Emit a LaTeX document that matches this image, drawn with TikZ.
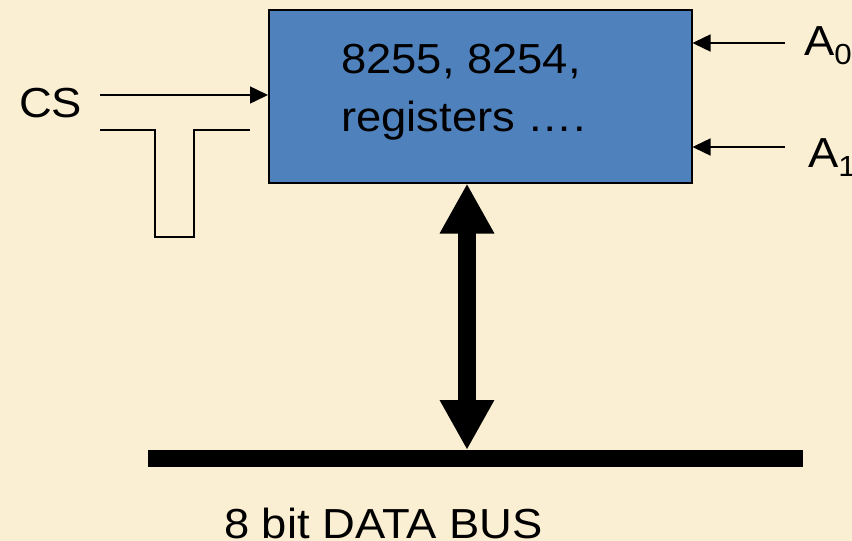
\documentclass[tikz,border=0pt]{standalone}
\usepackage{fontspec}
\setmainfont{Liberation Sans}[FakeStretch=1.08]
\usetikzlibrary{arrows.meta}
\definecolor{bgcream}{HTML}{FBEFD3}
\definecolor{boxblue}{HTML}{4F81BD}
\tikzset{
  lbl/.style={inner sep=0pt, anchor=base west, font=\fontsize{42}{58}\selectfont},
  thin/.style={line width=1.5pt, draw=black},
  sig/.style={thin, -{Triangle[length=18pt,width=17pt]}},
  bigarrow/.style={line width=18pt, {Triangle[length=50pt,width=51pt]}-{Triangle[length=50pt,width=51pt]}}
}
\newcommand{\subA}[1]{A\raisebox{-9pt}{\fontsize{29}{29}\selectfont #1}}
\begin{document}
\begin{tikzpicture}[x=1pt,y=-1pt]
\useasboundingbox (0,0) rectangle (852,541);
\fill[bgcream] (0,0) rectangle (852,541);
% main box
\node[draw=black, line width=1.5pt, fill=boxblue, minimum width=423pt, minimum height=173pt, inner sep=0pt, anchor=north west] (box) at (268,9) {};
\node[lbl] (t1) at (341,73) {8255, 8254,};
\node[lbl] (t2) at (341,131) {registers ….};
% CS
\node[lbl] (cs) at (19,117) {CS};
\coordinate (cs0) at (100,95);
\draw[sig] (cs0) -- (cs0 -| box.west);
% pulse waveform
\draw[thin] (100,130) -- (155,130) -- (155,237) -- (194,237) -- (194,130) -- (250,130);
% A0, A1
\node[lbl] (a0) at (804,55) {\subA{0}};
\node[lbl] (a1) at (808,167) {\subA{1}};
\coordinate (a0s) at (785,43);
\coordinate (a1s) at (785,147);
\draw[sig] (a0s) -- (a0s -| box.east);
\draw[sig] (a1s) -- (a1s -| box.east);
% bus
\node[fill=black, minimum width=655pt, minimum height=17pt, inner sep=0pt, anchor=north west] (bus) at (148,450) {};
\node[lbl] (buslbl) at (224,538) {8 bit DATA BUS};
\coordinate (bx) at (467,0);
\draw[bigarrow] (bx |- box.south) -- (bx |- bus.north);
\end{tikzpicture}
\end{document}
